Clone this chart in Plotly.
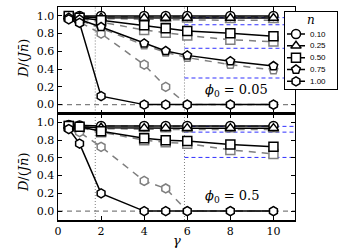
import plotly.graph_objects as go
from plotly.subplots import make_subplots

gamma = [0.5, 1, 2, 4, 5, 6, 8, 10]
n_labels = ["0.10", "0.25", "0.50", "0.75", "1.00"]
symbols = ["circle", "triangle-up", "square", "pentagon", "hexagon"]

# phi0 = 0.05 (top panel) -- solid black series
top_n010 = [0.99, 1.00, 1.00, 1.00, 1.00, 1.00, 1.00, 1.00]
top_n025 = [0.99, 0.99, 0.98, 0.975, 0.975, 0.975, 0.975, 0.975]
top_n050 = [1.00, 0.98, 0.95, 0.895, 0.86, 0.83, 0.805, 0.77]
top_n075 = [0.98, 0.96, 0.875, 0.69, 0.605, 0.555, 0.49, 0.435]
top_n100 = [0.96, 0.92, 0.095, 0.00, 0.00, 0.00, 0.00, 0.00]
# phi0 = 0.05 -- gray dashed series
top_g010 = [0.99, 0.99, 0.99, 0.99, 0.99, 0.99, 0.99, 0.99]
top_g025 = [0.99, 0.98, 0.97, 0.96, 0.96, 0.955, 0.95, 0.95]
top_g050 = [0.99, 0.97, 0.93, 0.84, 0.81, 0.78, 0.73, 0.71]
top_g075 = [0.98, 0.95, 0.86, 0.67, 0.59, 0.53, 0.45, 0.39]
top_g100 = [0.97, 0.93, 0.80, 0.45, 0.20, 0.00, 0.00, 0.00]

# phi0 = 0.5 (bottom panel) -- solid black series
bot_n010 = [0.97, 0.965, 0.96, 0.96, 0.96, 0.96, 0.96, 0.96]
bot_n025 = [0.96, 0.95, 0.94, 0.935, 0.935, 0.935, 0.935, 0.935]
bot_n050 = [0.96, 0.95, 0.90, 0.82, 0.80, 0.79, 0.75, 0.725]
bot_n100 = [0.925, 0.76, 0.20, 0.00, 0.00, 0.00, 0.00, 0.00]
# phi0 = 0.5 -- gray dashed series
bot_g010 = [0.96, 0.96, 0.955, 0.955, 0.955, 0.955, 0.955, 0.955]
bot_g025 = [0.95, 0.94, 0.93, 0.92, 0.92, 0.92, 0.92, 0.92]
bot_g050 = [0.96, 0.94, 0.89, 0.80, 0.775, 0.76, 0.69, 0.645]
bot_g100 = [0.93, 0.89, 0.725, 0.34, 0.255, 0.00, 0.00, 0.00]

gamma_marks = [1.73, 5.87]
top_asym = [0.98, 0.90, 0.635, 0.30]
bot_asym = [0.955, 0.89, 0.605]
x_max = 11

BLACK = "black"
GRAY = "#7f7f7f"
SERIF = "DejaVu Serif"

# layout geometry (paper spans x 58..338 px, y 7..220 px)
MAIN_X = [0, 0.8464]
LEG_X = [0.8107, 0.9964]
LEG_Y = [0.613, 0.978]

fig = make_subplots(rows=2, cols=1, shared_xaxes=True, vertical_spacing=0)

top_black = [top_n010, top_n025, top_n050, top_n075, top_n100]
top_gray = [top_g010, top_g025, top_g050, top_g075, top_g100]
bot_black = [bot_n010, bot_n025, bot_n050, None, bot_n100]
bot_gray = [bot_g010, bot_g025, bot_g050, None, bot_g100]


def add_series(vals, row, sym, color, dash):
    fig.add_trace(go.Scatter(
        x=gamma, y=vals, mode="lines+markers", showlegend=False,
        line=dict(color=color, width=1.5, dash=dash),
        marker=dict(symbol=sym, size=9, color="white",
                    line=dict(color=color, width=1.5)),
    ), row=row, col=1)


for i in range(5):
    if top_gray[i] is not None:
        add_series(top_gray[i], 1, symbols[i], GRAY, "7px,6px")
    if bot_gray[i] is not None:
        add_series(bot_gray[i], 2, symbols[i], GRAY, "7px,6px")
for i in range(5):
    if top_black[i] is not None:
        add_series(top_black[i], 1, symbols[i], BLACK, "solid")
    if bot_black[i] is not None:
        add_series(bot_black[i], 2, symbols[i], BLACK, "solid")

# reference lines
for yref, xref, asym in [("y", "x", top_asym), ("y2", "x2", bot_asym)]:
    fig.add_shape(type="line", xref=xref + " domain", yref=yref, x0=0, x1=1, y0=0, y1=0,
                  line=dict(color=GRAY, width=1.2, dash="5px,4px"), layer="below")
    for g in gamma_marks:
        fig.add_shape(type="line", xref=xref, yref=yref + " domain", x0=g, x1=g, y0=0, y1=1,
                      line=dict(color=GRAY, width=1, dash="1px,2px"), layer="below")
    for a in asym:
        fig.add_shape(type="line", xref=xref, yref=yref, x0=gamma_marks[1], x1=x_max, y0=a, y1=a,
                      line=dict(color="#3030ff", width=1, dash="4px,3px"), layer="below")

axis_common = dict(showline=True, linecolor=BLACK, linewidth=1.5, mirror="allticks",
                   ticks="inside", ticklen=4, tickwidth=1, tickcolor=BLACK,
                   showgrid=False, zeroline=False,
                   tickfont=dict(family=SERIF, size=11, color=BLACK))
fig.update_xaxes(range=[0, x_max], tickvals=[0, 2, 4, 6, 8, 10], domain=MAIN_X, **axis_common)
fig.update_xaxes(showticklabels=False, row=1, col=1)
fig.update_yaxes(range=[-0.1, 1.1], tickvals=[0, 0.2, 0.4, 0.6, 0.8, 1.0],
                 tickformat=".1f", **axis_common)
fig.update_layout(yaxis=dict(domain=[0.5, 1]), yaxis2=dict(domain=[0, 0.5]))

# ---- legend as an inset panel (pixel-like units) ----
LEG_W, LEG_H = 52, 77.6
leg_first, leg_step = 22.3, 11.8
fig.update_layout(
    xaxis3=dict(domain=LEG_X, range=[0, LEG_W], anchor="y3", visible=True,
                showline=True, linecolor=BLACK, linewidth=1, mirror=True,
                showticklabels=False, ticks="", showgrid=False, zeroline=False,
                fixedrange=True),
    yaxis3=dict(domain=LEG_Y, range=[LEG_H, 0], anchor="x3",
                showline=True, linecolor=BLACK, linewidth=1, mirror=True,
                showticklabels=False, ticks="", showgrid=False, zeroline=False,
                fixedrange=True),
)
fig.add_trace(go.Scatter(x=[0, LEG_W, LEG_W, 0, 0], y=[0, 0, LEG_H, LEG_H, 0],
                         fill="toself", fillcolor="white", mode="none",
                         showlegend=False, hoverinfo="skip", xaxis="x3", yaxis="y3"))
for i, (lab, sym) in enumerate(zip(n_labels, symbols)):
    yy = leg_first + i * leg_step
    fig.add_trace(go.Scatter(x=[2, 20], y=[yy, yy], mode="lines", showlegend=False,
                             line=dict(color=BLACK, width=1.5), hoverinfo="skip",
                             xaxis="x3", yaxis="y3"))
    fig.add_trace(go.Scatter(x=[11], y=[yy], mode="markers", showlegend=False,
                             marker=dict(symbol=sym, size=9, color="white",
                                         line=dict(color=BLACK, width=1.5)),
                             hoverinfo="skip", xaxis="x3", yaxis="y3"))
    fig.add_annotation(xref="x3", yref="y3", x=23, y=yy, text=lab, showarrow=False,
                       xanchor="left", yanchor="middle",
                       font=dict(family="Liberation Sans", size=8, color=BLACK))
fig.add_annotation(xref="x3", yref="y3", x=LEG_W / 2, y=8.5, text="<i>n</i>",
                   showarrow=False, xanchor="center", yanchor="middle",
                   font=dict(family=SERIF, size=12, color=BLACK))

ytitle = "<i>D</i>/(<i>J</i><i>n̄</i>)"
annots = [
    dict(text=ytitle, x=-0.125, y=0.76, textangle=-90),
    dict(text=ytitle, x=-0.125, y=0.225, textangle=-90),
    dict(text="<i>γ</i>", x=(177 - 58) / 280, y=-0.098, textangle=0),
]
for a in annots:
    fig.add_annotation(xref="paper", yref="paper", showarrow=False,
                       font=dict(family=SERIF, size=13, color=BLACK),
                       xanchor="center", yanchor="middle", **a)
fig.add_annotation(xref="x", yref="y", x=8.3, y=0.16, showarrow=False,
                   text="<i>ϕ</i><sub>0</sub> = 0.05",
                   font=dict(family=SERIF, size=13, color=BLACK))
fig.add_annotation(xref="x2", yref="y2", x=8.1, y=0.16, showarrow=False,
                   text="<i>ϕ</i><sub>0</sub> = 0.5",
                   font=dict(family=SERIF, size=13, color=BLACK))

fig.update_layout(
    width=340, height=251,
    margin=dict(l=58, r=2, t=7, b=31),
    paper_bgcolor="white", plot_bgcolor="white",
    showlegend=False,
)

fig.write_html("out.html",
               config={"displayModeBar": False, "staticPlot": True},
               post_script="document.body.style.margin='0';document.body.style.overflow='hidden';")
